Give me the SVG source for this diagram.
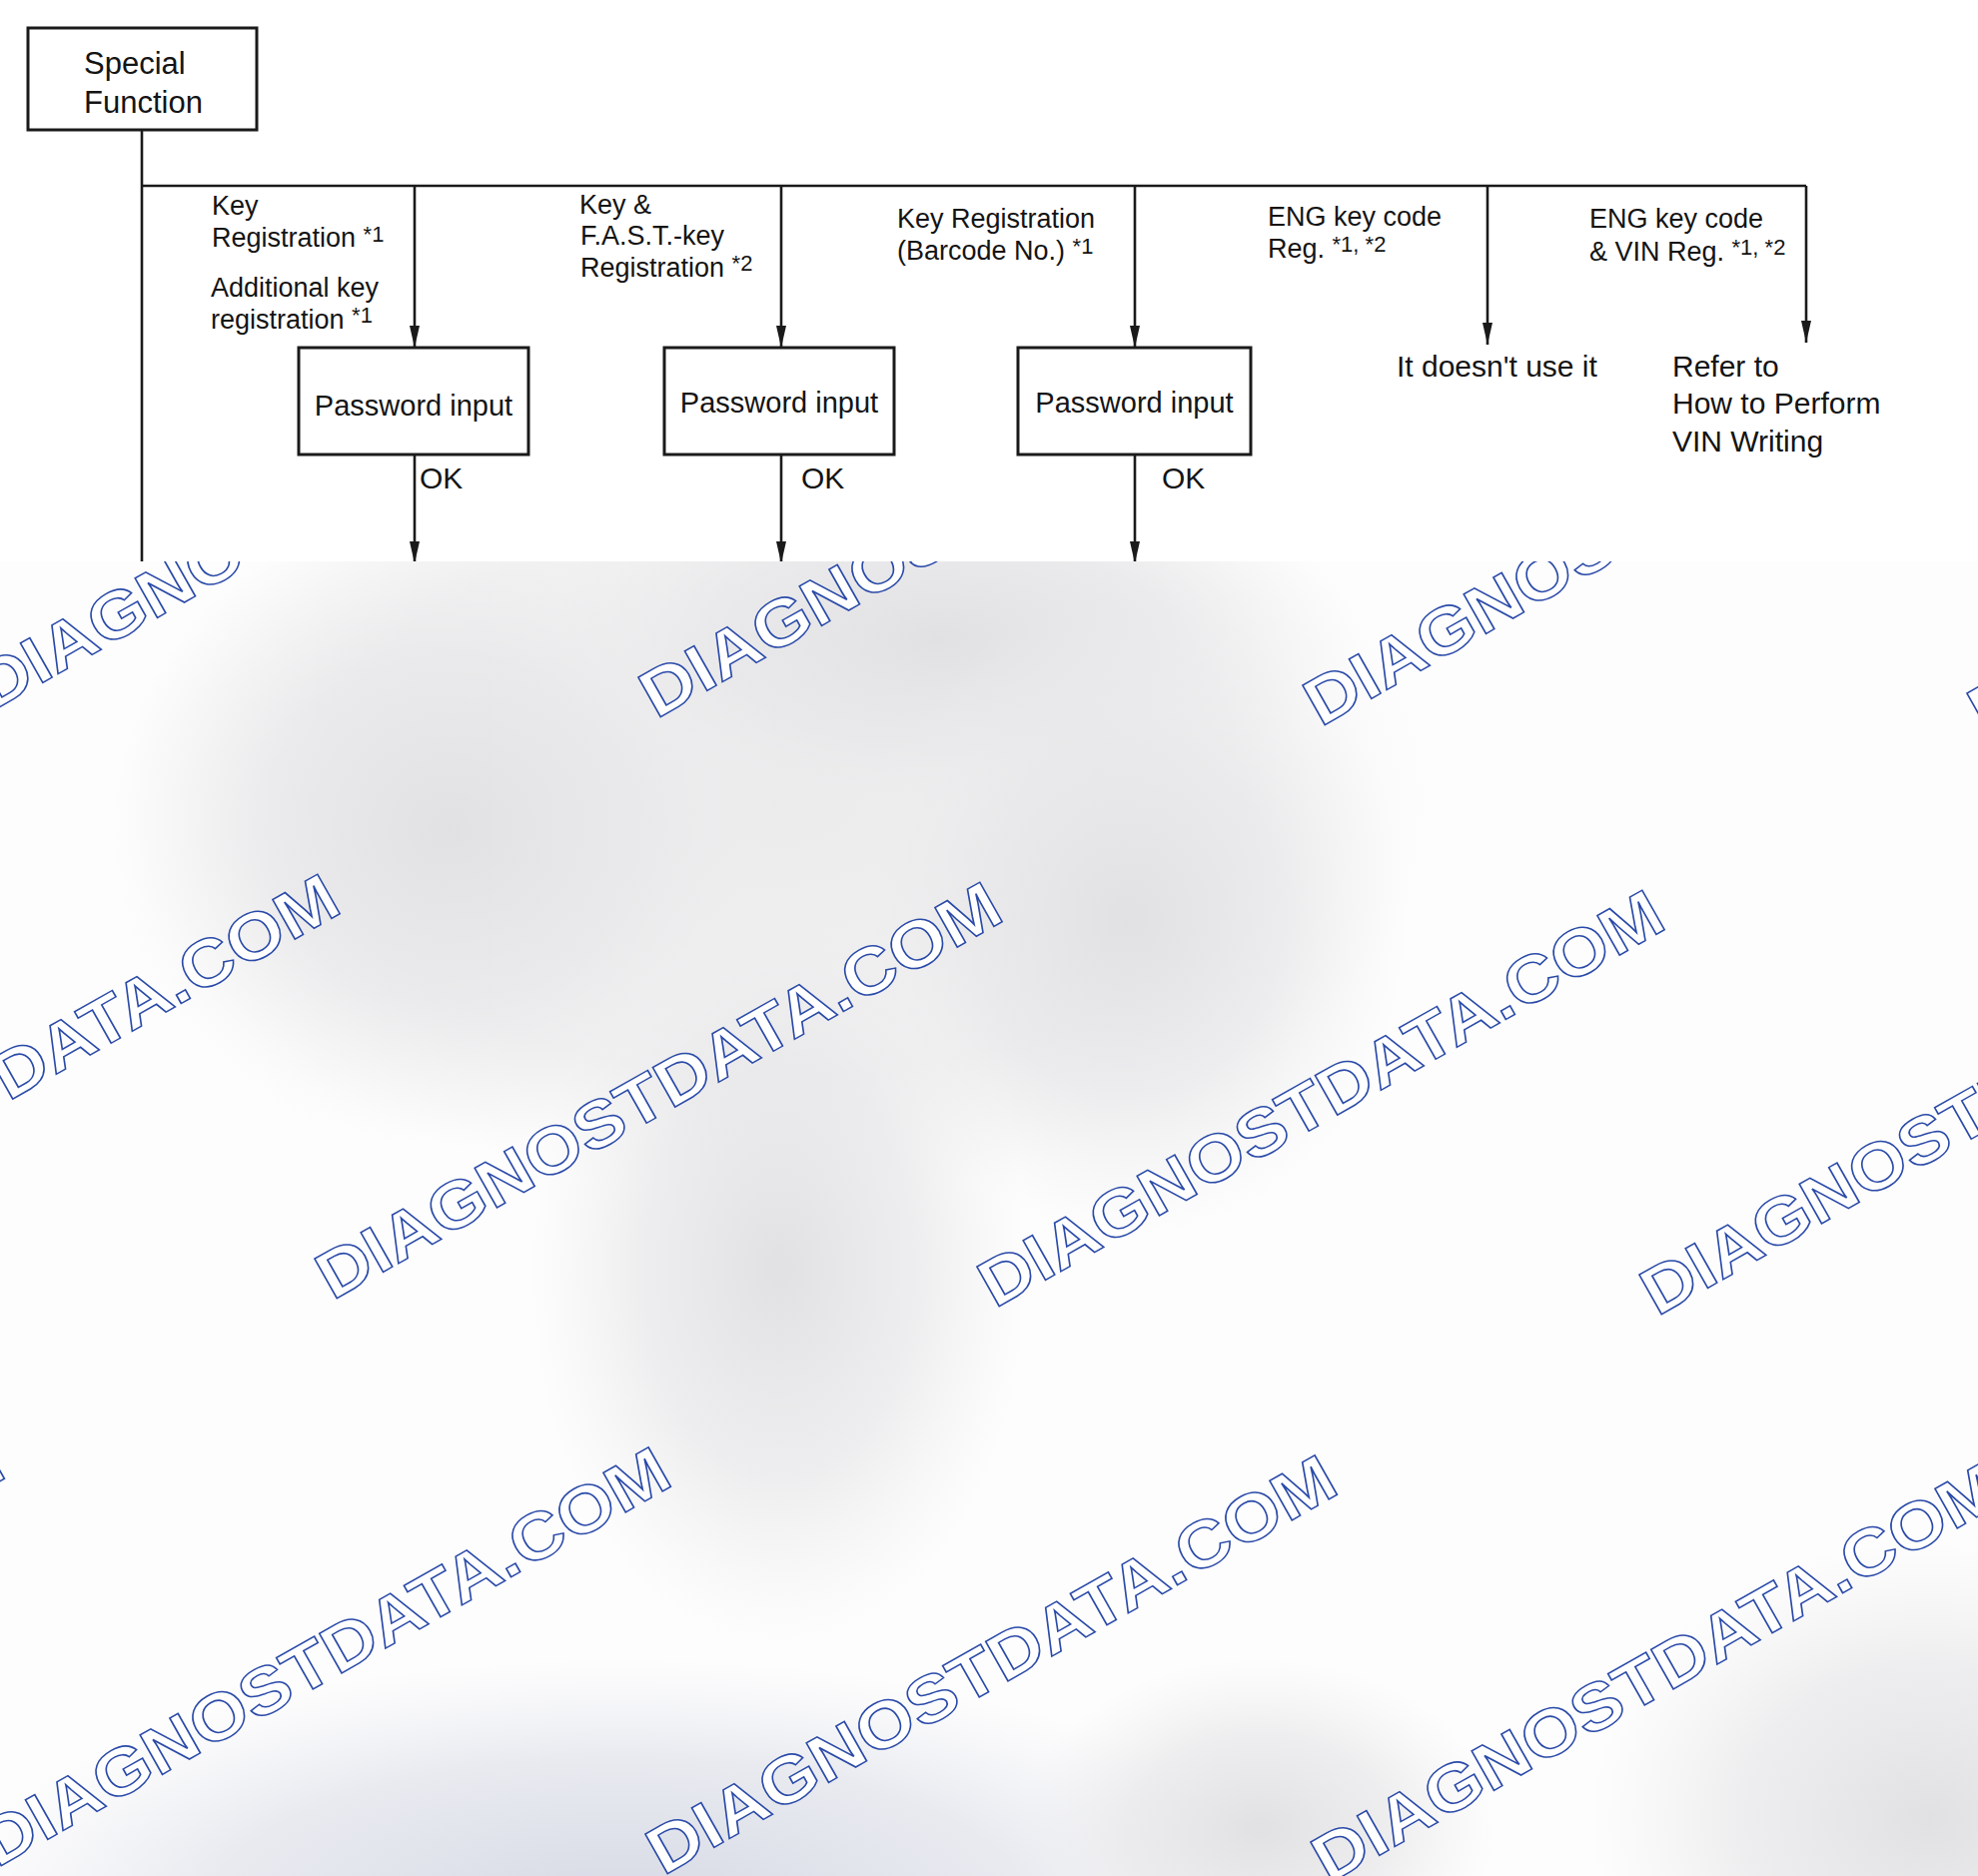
<svg xmlns="http://www.w3.org/2000/svg" width="1980" height="1878" viewBox="0 0 1980 1878">
<style>
.t{font-family:"Liberation Sans",Arial,Helvetica,sans-serif;fill:#141414;font-size:27px}
.tl{font-size:30px}
.tp{font-size:29px}
.sup{font-size:22px}
.box{fill:#fff;stroke:#1a1a1a;stroke-width:3}
.ln{stroke:#1a1a1a;stroke-width:2.6;fill:none}
.wm{font-family:"Liberation Sans",Arial,Helvetica,sans-serif;font-weight:bold;font-size:66px;fill:#fff;stroke:#2a4aa8;stroke-width:1.5}
</style>
<defs>
<marker id="arr" viewBox="0 0 22 10" refX="22" refY="5" markerWidth="22" markerHeight="10" orient="auto" markerUnits="userSpaceOnUse">
<path d="M0,0 L22,5 L0,10 Z" fill="#1a1a1a"/>
</marker>
<radialGradient id="g1">
<stop offset="0" stop-color="#e1e1e3" stop-opacity="1"/>
<stop offset="0.55" stop-color="#e7e7e9" stop-opacity="0.7"/>
<stop offset="1" stop-color="#eeeeef" stop-opacity="0"/>
</radialGradient>
<radialGradient id="g0">
<stop offset="0" stop-color="#ebebec" stop-opacity="1"/>
<stop offset="0.7" stop-color="#ededee" stop-opacity="0.7"/>
<stop offset="1" stop-color="#f2f2f3" stop-opacity="0"/>
</radialGradient>
<radialGradient id="gb">
<stop offset="0" stop-color="#d6d9e4" stop-opacity="1"/>
<stop offset="0.6" stop-color="#dfe2ea" stop-opacity="0.7"/>
<stop offset="1" stop-color="#e8eaf0" stop-opacity="0"/>
</radialGradient>
<clipPath id="lower"><rect x="0" y="562" width="1980" height="1316"/></clipPath>
</defs>

<rect x="0" y="0" width="1980" height="1878" fill="#ffffff"/>

<g id="connectors">
<path class="ln" d="M142,131 V566"/>
<path class="ln" d="M142,186 H1808"/>
<path class="ln" d="M415,186 V348" marker-end="url(#arr)"/>
<path class="ln" d="M782,186 V348" marker-end="url(#arr)"/>
<path class="ln" d="M1136,186 V348" marker-end="url(#arr)"/>
<path class="ln" d="M1489,186 V345" marker-end="url(#arr)"/>
<path class="ln" d="M1808,186 V343" marker-end="url(#arr)"/>
<path class="ln" d="M415,455 V564" marker-end="url(#arr)"/>
<path class="ln" d="M782,455 V564" marker-end="url(#arr)"/>
<path class="ln" d="M1136,455 V564" marker-end="url(#arr)"/>
</g>

<g id="node-special">
<rect class="box" x="28" y="28" width="229" height="102"/>
<text class="t" style="font-size:31px" x="84" y="74">Special</text>
<text class="t" style="font-size:31px" x="84" y="113">Function</text>
</g>

<g id="node-pw1">
<rect class="box" x="299" y="348" width="230" height="107"/>
<text class="t tp" x="414" y="416" text-anchor="middle">Password input</text>
</g>
<g id="node-pw2">
<rect class="box" x="665" y="348" width="230" height="107"/>
<text class="t tp" x="780" y="413" text-anchor="middle">Password input</text>
</g>
<g id="node-pw3">
<rect class="box" x="1019" y="348" width="233" height="107"/>
<text class="t tp" x="1135.5" y="413" text-anchor="middle">Password input</text>
</g>

<g id="node-nouse">
<text class="t tl" x="1398" y="377">It doesn't use it</text>
</g>
<g id="node-refer">
<text class="t tl" x="1674" y="377">Refer to</text>
<text class="t tl" x="1674" y="414">How to Perform</text>
<text class="t tl" x="1674" y="452">VIN Writing</text>
</g>

<g id="labels">
<text class="t" x="212" y="215">Key</text>
<text class="t" x="212" y="247">Registration <tspan class="sup" dy="-5">*1</tspan></text>
<text class="t" x="211" y="297">Additional key</text>
<text class="t" x="211" y="329">registration <tspan class="sup" dy="-6">*1</tspan></text>

<text class="t" x="580" y="214">Key &amp;</text>
<text class="t" x="581" y="245">F.A.S.T.-key</text>
<text class="t" x="581" y="277">Registration <tspan class="sup" dy="-6">*2</tspan></text>

<text class="t" x="898" y="228">Key Registration</text>
<text class="t" x="898" y="260">(Barcode No.) <tspan class="sup" dy="-6">*1</tspan></text>

<text class="t" x="1269" y="226">ENG key code</text>
<text class="t" x="1269" y="258">Reg. <tspan class="sup" dy="-6">*1, *2</tspan></text>

<text class="t" x="1591" y="228">ENG key code</text>
<text class="t" x="1591" y="261">&amp; VIN Reg. <tspan class="sup" dy="-6">*1, *2</tspan></text>

<text class="t tl" x="420" y="489">OK</text>
<text class="t tl" x="802" y="489">OK</text>
<text class="t tl" x="1163" y="489">OK</text>
</g>

<g id="background-lower">
<rect x="0" y="562" width="1980" height="1316" fill="#fdfdfd"/>
<g clip-path="url(#lower)">
<ellipse cx="780" cy="800" rx="660" ry="400" fill="url(#g0)"/>
<ellipse cx="450" cy="830" rx="340" ry="320" fill="url(#g1)"/>
<ellipse cx="940" cy="640" rx="420" ry="190" fill="url(#g1)"/>
<ellipse cx="1130" cy="920" rx="280" ry="320" fill="url(#g1)"/>
<ellipse cx="780" cy="1270" rx="250" ry="380" fill="url(#g1)"/>
<ellipse cx="620" cy="1910" rx="680" ry="250" fill="url(#gb)"/>
<ellipse cx="1930" cy="1820" rx="340" ry="280" fill="url(#g1)"/>
<ellipse cx="1260" cy="1830" rx="240" ry="170" fill="url(#g1)"/>
</g>
</g>

<g id="watermark" clip-path="url(#lower)">
<text class="wm" transform="translate(-8,712) rotate(-29.5)" textLength="780" lengthAdjust="spacingAndGlyphs">DIAGNOSTDATA.COM</text>
<text class="wm" transform="translate(657,720) rotate(-29.5)" textLength="780" lengthAdjust="spacingAndGlyphs">DIAGNOSTDATA.COM</text>
<text class="wm" transform="translate(1322,728) rotate(-29.5)" textLength="780" lengthAdjust="spacingAndGlyphs">DIAGNOSTDATA.COM</text>
<text class="wm" transform="translate(1987,736) rotate(-29.5)" textLength="780" lengthAdjust="spacingAndGlyphs">DIAGNOSTDATA.COM</text>
<text class="wm" transform="translate(-330,1294) rotate(-29.5)" textLength="775" lengthAdjust="spacingAndGlyphs">DIAGNOSTDATA.COM</text>
<text class="wm" transform="translate(333,1302) rotate(-29.5)" textLength="775" lengthAdjust="spacingAndGlyphs">DIAGNOSTDATA.COM</text>
<text class="wm" transform="translate(996,1310) rotate(-29.5)" textLength="775" lengthAdjust="spacingAndGlyphs">DIAGNOSTDATA.COM</text>
<text class="wm" transform="translate(1659,1318) rotate(-29.5)" textLength="775" lengthAdjust="spacingAndGlyphs">DIAGNOSTDATA.COM</text>
<text class="wm" transform="translate(-670,1862) rotate(-29.5)" textLength="780" lengthAdjust="spacingAndGlyphs">DIAGNOSTDATA.COM</text>
<text class="wm" transform="translate(-3,1870) rotate(-29.5)" textLength="780" lengthAdjust="spacingAndGlyphs">DIAGNOSTDATA.COM</text>
<text class="wm" transform="translate(664,1878) rotate(-29.5)" textLength="780" lengthAdjust="spacingAndGlyphs">DIAGNOSTDATA.COM</text>
<text class="wm" transform="translate(1330,1886) rotate(-29.5)" textLength="780" lengthAdjust="spacingAndGlyphs">DIAGNOSTDATA.COM</text>
</g>
</svg>
